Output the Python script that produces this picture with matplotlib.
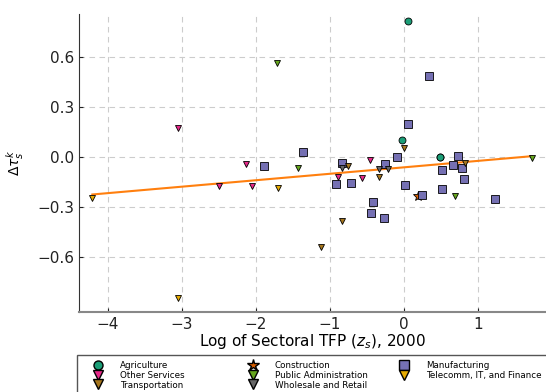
import matplotlib
matplotlib.use('Agg')
import matplotlib.pyplot as plt
from matplotlib.lines import Line2D
from matplotlib.patches import Rectangle
import numpy as np

# ── sector points (log TFP z_s, delta tau) ──
agri_x = [0.05, -0.03, 0.49, 0.49]
agri_y = [0.816, 0.10, 0.0, 0.002]

constr_x = [0.185]
constr_y = [-0.234]

manuf_x = [0.05, -1.365, -0.83, -0.92, -0.716, -0.25, -0.10, 0.01, -0.42, -0.45,
           -0.27, 0.25, 0.725, 0.51, 0.67, 0.79, 0.815, 0.51, 1.23, 0.34, -1.89]
manuf_y = [0.196, 0.032, -0.038, -0.16, -0.154, -0.044, 0.002, -0.168, -0.27, -0.334,
           -0.364, -0.226, 0.008, -0.08, -0.046, -0.066, -0.13, -0.19, -0.254, 0.488, -0.056]

other_x = [-0.89, -0.46, -0.56, -3.05, -2.14, -2.50, -2.05]
other_y = [-0.118, -0.018, -0.124, 0.176, -0.042, -0.172, -0.174]

pubadm_x = [-1.43, 0.685, 1.73, -1.71]
pubadm_y = [-0.068, -0.236, -0.008, 0.566]

telecom_x = [-4.21, -1.70, -3.05]
telecom_y = [-0.248, -0.184, -0.844]

transp_x = [-0.757, 0.0, -0.34, -0.83, -1.12, 0.83]
transp_y = [-0.052, 0.052, -0.118, -0.382, -0.54, -0.038]

whole_x = [-0.84, -0.34, -0.21]
whole_y = [-0.064, -0.07, -0.074]

# fitted line
fit_x = [-4.21, 1.73]
fit_slope = 0.0387
fit_icpt = -0.062

sectors = [
    ('Agriculture', agri_x, agri_y, 'o', '#1b9e77'),
    ('Construction', constr_x, constr_y, '*', '#d95f02'),
    ('Manufacturing', manuf_x, manuf_y, 's', '#7570b3'),
    ('Other Services', other_x, other_y, 'v', '#e7298a'),
    ('Public Administration', pubadm_x, pubadm_y, 'v', '#66a61e'),
    ('Telecomm, IT, and Finance', telecom_x, telecom_y, 'v', '#e6ab02'),
    ('Transportation', transp_x, transp_y, 'v', '#a6761d'),
    ('Wholesale and Retail', whole_x, whole_y, 'v', '#666666'),
]
legend_cols = [
    ['Agriculture', 'Other Services', 'Transportation'],
    ['Construction', 'Public Administration', 'Wholesale and Retail'],
    ['Manufacturing', 'Telecomm, IT, and Finance'],
]

W, H = 546, 392
fig = plt.figure(figsize=(W / 100, H / 100), dpi=100)
ax = fig.add_axes([79 / W, 1 - 312 / H, (W - 79) / W, (312 - 14) / H])

handles = {}
for name, xs, ys, mk, col in sectors:
    ms = 5.5 if mk == 's' else (7 if mk == '*' else 5)
    ax.plot(xs, ys, linestyle='none', marker=mk, markersize=ms,
            markerfacecolor=col, markeredgecolor='black', markeredgewidth=0.6, zorder=3)
    lms = {'s': 7, '*': 9, 'o': 6.5}.get(mk, 6.5)
    handles[name] = Line2D([], [], linestyle='none', marker=mk, markersize=lms,
                           markerfacecolor=col, markeredgecolor='black',
                           markeredgewidth=1.0)

fx = np.array(fit_x)
ax.plot(fx, fit_icpt + fit_slope * fx, color='#ff7f0e', lw=1.5, zorder=2)

ax.set_xlim(-4.39, 1.92)
ax.set_ylim(-0.93, 0.858)
ax.set_xticks([-4, -3, -2, -1, 0, 1])
ax.set_yticks([-0.6, -0.3, 0.0, 0.3, 0.6])
ax.set_yticklabels(['\u22120.6', '\u22120.3', '0.0', '0.3', '0.6'])
ax.set_xticklabels(['\u22124', '\u22123', '\u22122', '\u22121', '0', '1'])
ax.tick_params(direction='in', length=3, labelsize=11, colors='#222222')
ax.grid(True, linestyle=(0, (5, 4)), color='#cccccc', lw=0.8)
ax.set_axisbelow(True)
for s in ['top', 'right']:
    ax.spines[s].set_visible(False)
ax.spines['left'].set_color('#333333')
ax.spines['bottom'].set_color('#888888')
ax.spines['bottom'].set_linewidth(1.5)

ax.set_xlabel(r'Log of Sectoral TFP $(z_s)$, 2000', fontsize=11, labelpad=0)
ax.set_ylabel(r'$\Delta\tau_s^k$', fontsize=10, labelpad=8)

# legend: frame box + three frameless columns
fig.add_artist(Rectangle((77 / W, 1 - 400 / H), 480 / W, 45 / H,
                         transform=fig.transFigure, fill=False,
                         edgecolor='#555555', lw=1.0))
for col_x, names in zip([80.3, 235.3, 386.3], legend_cols):
    fig.legend([handles[n] for n in names], names,
               loc='upper left', bbox_to_anchor=(col_x / W, 1 - 361.5 / H),
               fontsize=6.3, labelspacing=0.06, handlelength=4.05,
               handletextpad=0.45, borderpad=0, borderaxespad=0,
               frameon=False)

fig.savefig('out.png', dpi=100)
